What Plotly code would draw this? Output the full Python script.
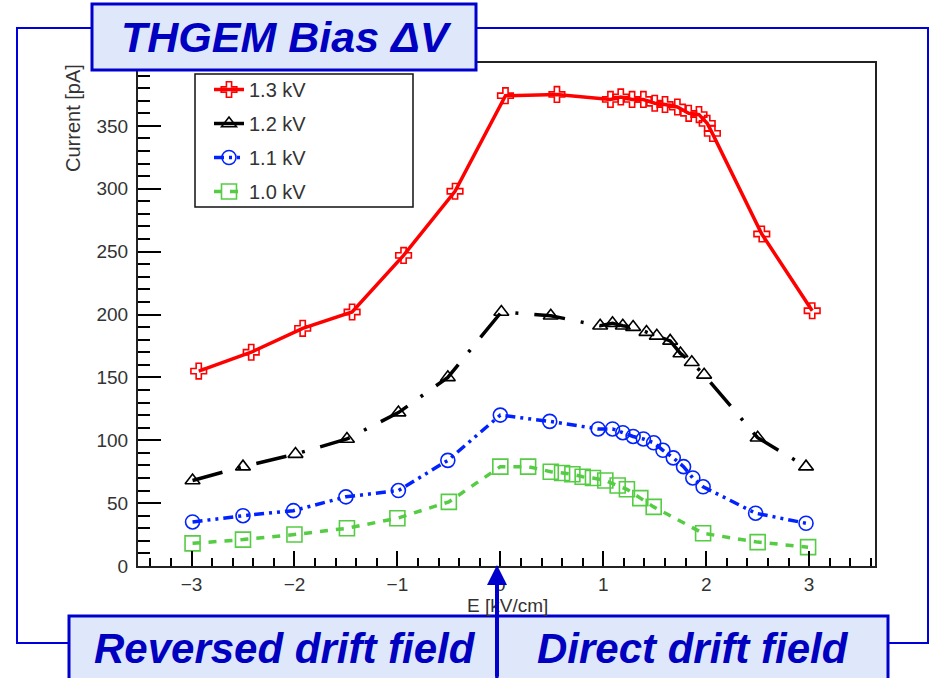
import plotly.graph_objects as go

# ---------------- data ----------------
E_13 = [-2.93, -2.42, -1.92, -1.44, -0.94, -0.44, 0.05, 0.55, 1.07, 1.17, 1.28,
        1.39, 1.50, 1.60, 1.72, 1.83, 1.93, 2.01, 2.06, 2.54, 3.03]
I_13 = [155, 170, 189, 202, 247, 298, 374, 375, 371, 373, 371,
        371, 368, 367, 365, 360, 359, 352, 344, 264, 203]

E_12 = [-2.99, -2.50, -1.99, -1.49, -0.99, -0.51, 0.01, 0.49, 0.97, 1.09, 1.19,
        1.29, 1.42, 1.52, 1.65, 1.75, 1.86, 1.98, 2.50, 2.97]
I_12 = [68, 79, 89, 101, 122, 150, 202, 199, 191, 193, 191,
        190, 186, 183, 179, 169, 162, 152, 102, 79]

E_11 = [-2.99, -2.50, -2.01, -1.50, -0.99, -0.51, 0.00, 0.48, 0.95, 1.09, 1.19,
        1.29, 1.39, 1.49, 1.58, 1.68, 1.78, 1.87, 1.97, 2.48, 2.97]
I_11 = [35, 40, 44, 55, 60, 84, 120, 115, 109, 109, 106,
        103, 101, 98, 92, 86, 79, 70, 63, 42, 34]

E_10 = [-2.99, -2.50, -2.00, -1.49, -1.00, -0.50, 0.00, 0.27, 0.49, 0.60, 0.70,
        0.80, 0.90, 1.02, 1.14, 1.23, 1.36, 1.49, 1.97, 2.50, 2.99]
I_10 = [18, 21, 25, 30, 38, 51, 79, 79, 75, 74, 73,
        71, 70, 68, 64, 61, 54, 47, 26, 19, 15]

SERIES_NAMES = ["1.3 kV", "1.2 kV", "1.1 kV", "1.0 kV"]
X_TICKS = [-3, -2, -1, 0, 1, 2, 3]
X_TICKTEXT = ["\u22123", "\u22122", "\u22121", "0", "1", "2", "3"]
Y_TICKS = [0, 50, 100, 150, 200, 250, 300, 350]
X_TITLE = "E [kV/cm]"
Y_TITLE = "Current [pA]"
TITLE = "THGEM Bias \u0394V"
LEFT_LABEL = "Reversed drift field"
RIGHT_LABEL = "Direct drift field"

# ---------------- layout helpers ----------------
W, H = 933, 678
L, R, T, B = 138, 875, 63, 566   # plot area in pixels


def px(x):
    return (x - L) / (R - L)


def py(y):
    return (B - y) / (B - T)


FONT = "Liberation Sans, Arial, Helvetica, sans-serif"
BLUE = "#0000cc"
BOXFILL = "#dfe7fb"

fig = go.Figure()

styles = [
    dict(x=E_13, y=I_13, color="#ff0000", dash="solid", symbol="cross-open", size=13),
    dict(x=E_12, y=I_12, color="#000000", dash="31px,16px,3px,16px", symbol="triangle-up-open", size=13),
    dict(x=E_11, y=I_11, color="#0022ff", dash="10px,5px,3px,5px,3px,5px", symbol="circle-open", size=14),
    dict(x=E_10, y=I_10, color="#55cc44", dash="8px,8px", symbol="square-open", size=15),
]

for name, s in zip(SERIES_NAMES, styles):
    fig.add_trace(go.Scatter(
        x=s["x"], y=s["y"], name=name, mode="lines+markers",
        legendgroup=name,
        line=dict(color=s["color"], width=3.5, dash=s["dash"]),
        marker=dict(symbol=s["symbol"], size=s["size"], color=s["color"],
                    line=dict(width=1.6, color=s["color"])),
    ))

fig.update_layout(
    width=W, height=H,
    margin=dict(l=L, r=W - R, t=T, b=H - B, pad=0),
    paper_bgcolor="white", plot_bgcolor="white",
    font=dict(family=FONT, size=19, color="#333333"),
    showlegend=True,
    legend=dict(x=px(209), y=py(70), xanchor="left", yanchor="top",
                bgcolor="rgba(0,0,0,0)", borderwidth=0,
                font=dict(size=20, color="#333333"), tracegroupgap=5),
)

fig.update_xaxes(
    range=[-3.52, 3.64], tickmode="array", tickvals=X_TICKS, ticktext=X_TICKTEXT,
    ticks="inside", ticklen=15, tickwidth=1.5, tickcolor="#000",
    showline=True, linewidth=2, linecolor="#222", mirror=True,
    showgrid=False, zeroline=False, ticklabelstandoff=0,
    minor=dict(tickmode="linear", tick0=0, dtick=0.2, ticks="inside",
               ticklen=8, tickwidth=1.5, tickcolor="#000", showgrid=False),
)
fig.update_yaxes(
    range=[0, 400], tickmode="array", tickvals=Y_TICKS,
    ticks="inside", ticklen=23, tickwidth=1.5, tickcolor="#000",
    showline=True, linewidth=2, linecolor="#222", mirror=True,
    showgrid=False, zeroline=False, ticklabelstandoff=4,
    minor=dict(tickmode="linear", tick0=0, dtick=10, ticks="inside",
               ticklen=12, tickwidth=1.5, tickcolor="#000", showgrid=False),
)

shapes = [
    # outer blue frame
    dict(type="rect", xref="paper", yref="paper", x0=px(17), x1=px(928), y0=py(643), y1=py(28),
         line=dict(color="#0000dd", width=2), fillcolor="rgba(0,0,0,0)", layer="above"),
    # legend box
    dict(type="rect", xref="paper", yref="paper", x0=px(195), x1=px(413), y0=py(207), y1=py(74),
         line=dict(color="#111", width=1.5), fillcolor="rgba(0,0,0,0)", layer="above"),
    # title box
    dict(type="rect", xref="paper", yref="paper", x0=px(92), x1=px(476), y0=py(70), y1=py(4),
         line=dict(color=BLUE, width=3), fillcolor=BOXFILL, layer="above"),
    # bottom boxes
    dict(type="rect", xref="paper", yref="paper", x0=px(69), x1=px(497), y0=py(690), y1=py(616),
         line=dict(color=BLUE, width=3), fillcolor=BOXFILL, layer="above"),
    dict(type="rect", xref="paper", yref="paper", x0=px(497), x1=px(888), y0=py(690), y1=py(616),
         line=dict(color=BLUE, width=3), fillcolor=BOXFILL, layer="above"),
]
fig.update_layout(shapes=shapes)

BIG = dict(family=FONT, size=43, color="#0000c0", weight="bold", style="italic")
annotations = [
    dict(text=Y_TITLE, xref="paper", yref="paper", x=px(73), y=py(118), textangle=-90,
         showarrow=False, xanchor="center", yanchor="middle",
         font=dict(family=FONT, size=20, color="#333333")),
    dict(text=X_TITLE, xref="paper", yref="paper", x=px(507), y=py(605),
         showarrow=False, xanchor="center", yanchor="middle",
         font=dict(family=FONT, size=19, color="#333333")),
    dict(text=TITLE, xref="paper", yref="paper", x=px(286), y=py(37),
         showarrow=False, xanchor="center", yanchor="middle", font=BIG),
    dict(text=LEFT_LABEL, xref="paper", yref="paper", x=px(285), y=py(648),
         showarrow=False, xanchor="center", yanchor="middle", font=dict(BIG, size=42)),
    dict(text=RIGHT_LABEL, xref="paper", yref="paper", x=px(693), y=py(648),
         showarrow=False, xanchor="center", yanchor="middle", font=dict(BIG, size=42)),
    # arrow at E = 0
    dict(text="", xref="paper", yref="paper", x=px(497), y=py(565), ax=0, ay=120,
         showarrow=True, arrowhead=2, arrowsize=1, arrowwidth=4, arrowcolor=BLUE, standoff=0),
]
fig.update_layout(annotations=annotations)

fig.write_html("out.html")
